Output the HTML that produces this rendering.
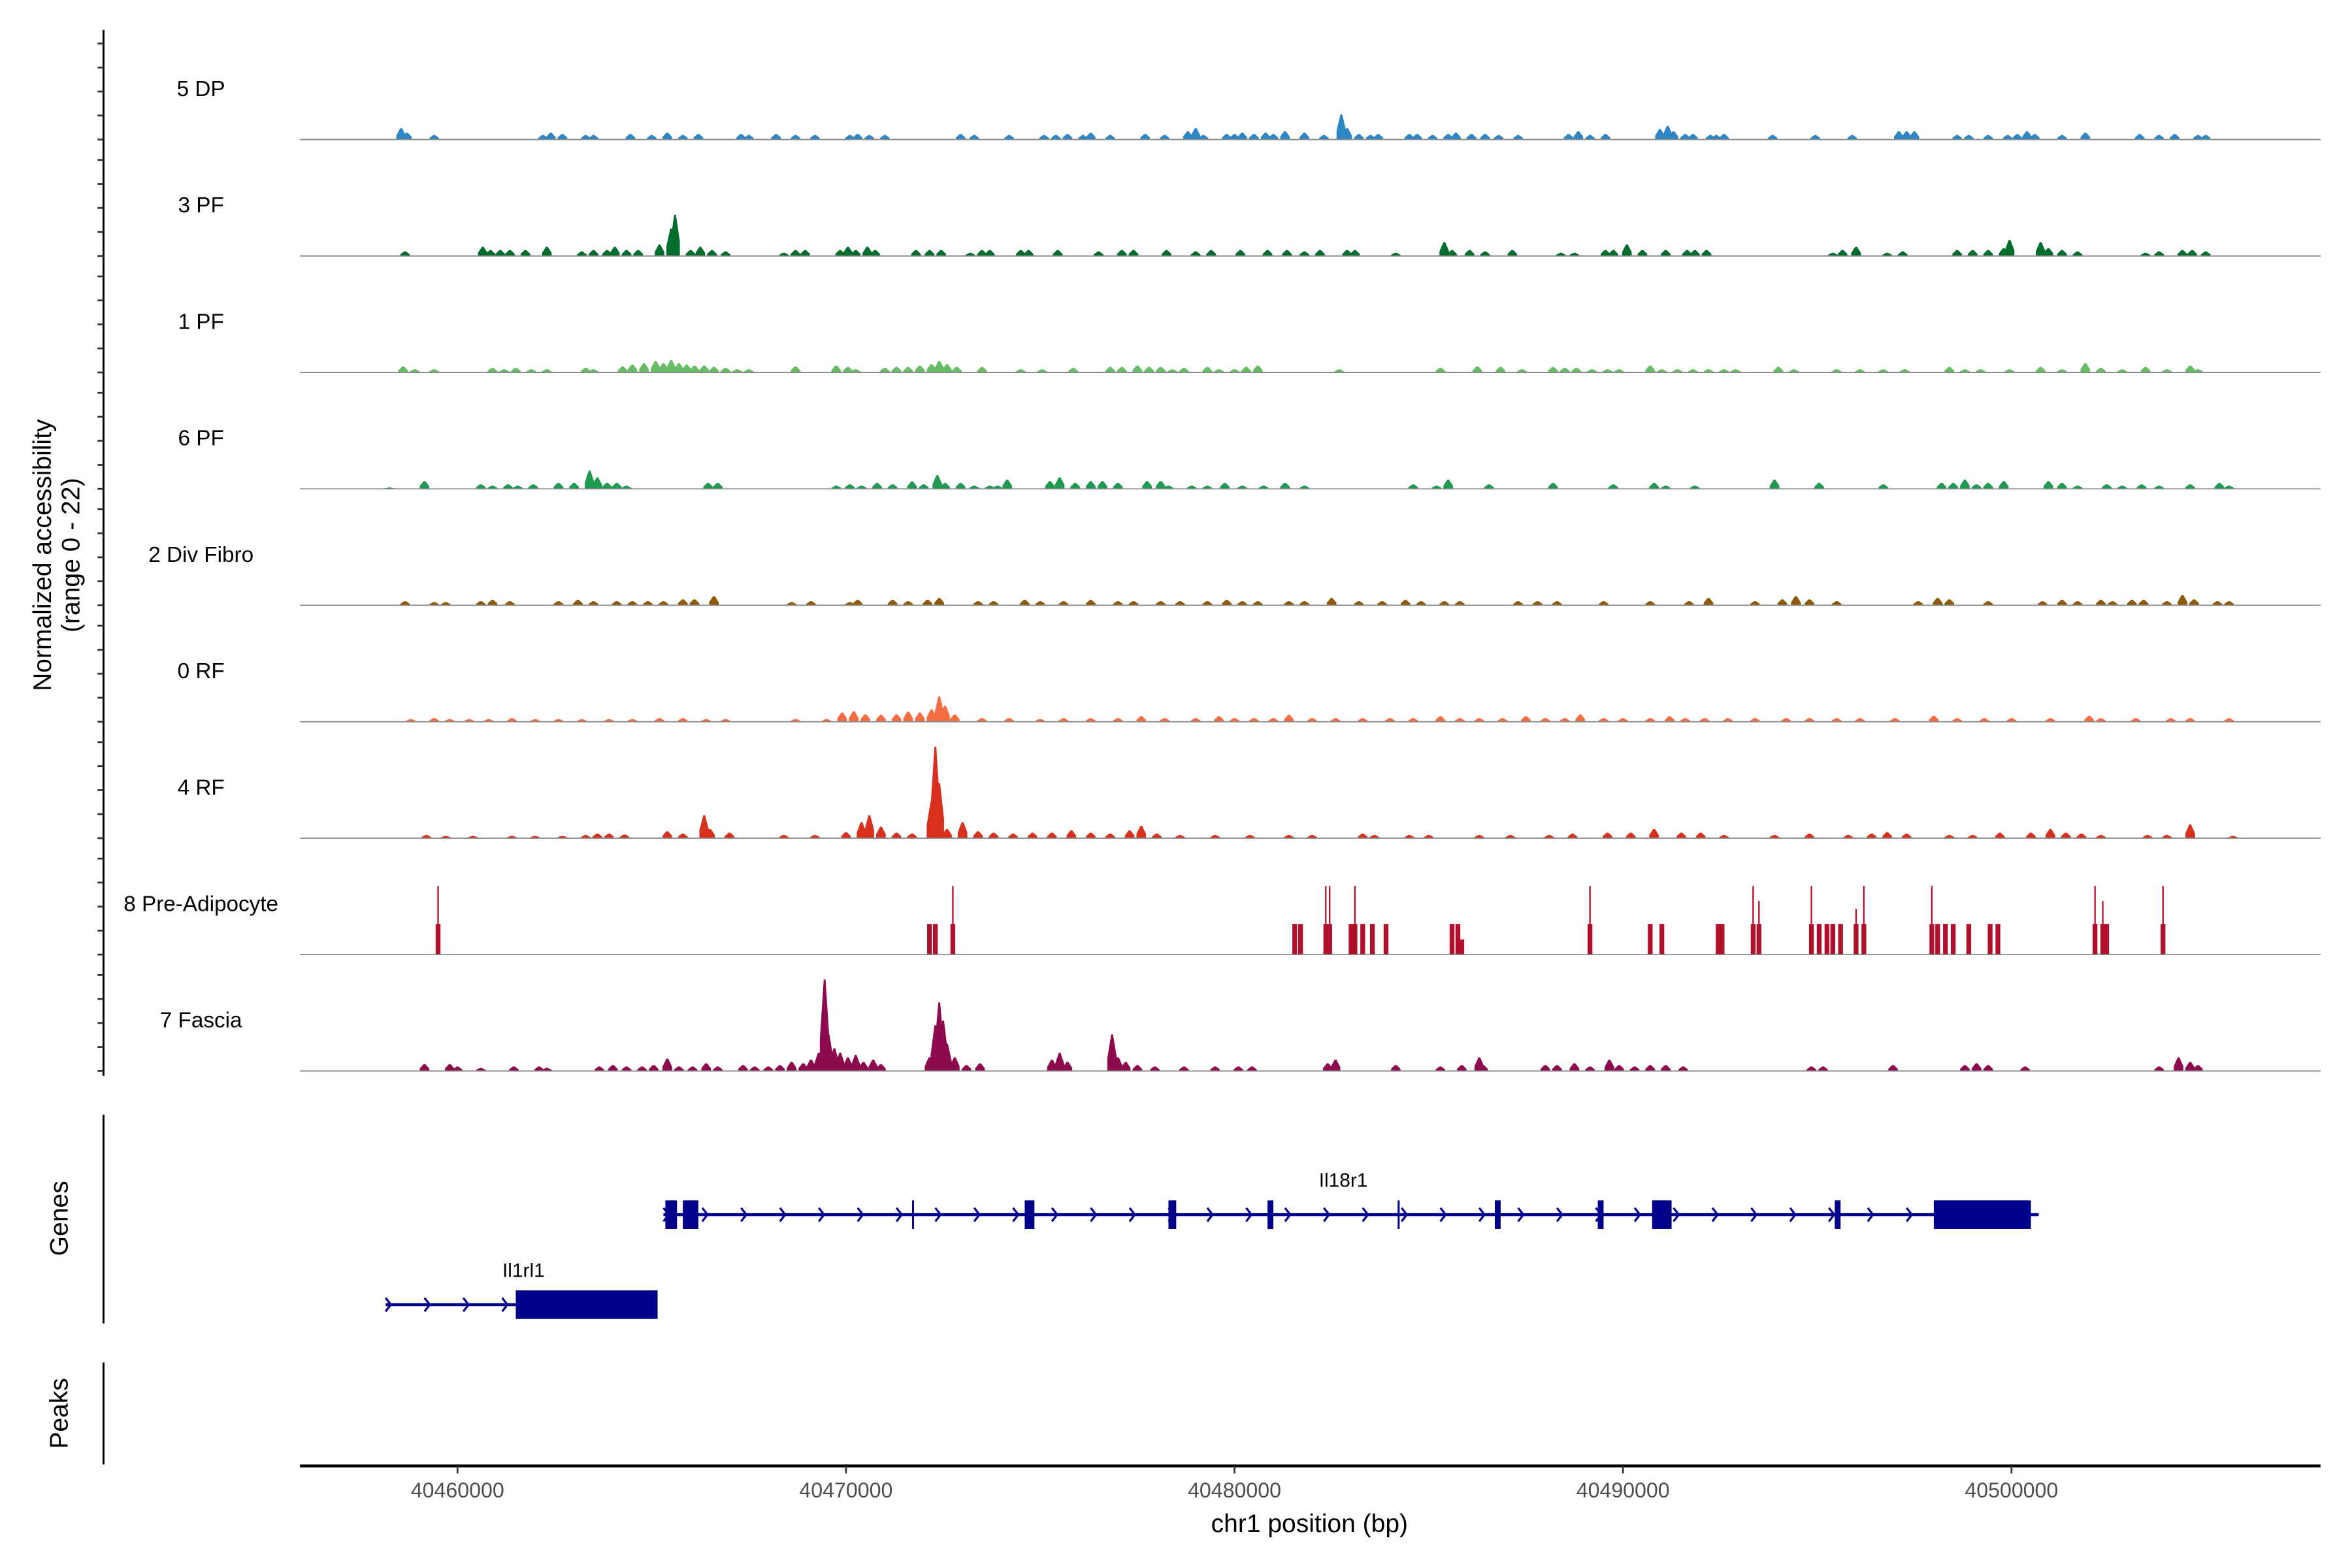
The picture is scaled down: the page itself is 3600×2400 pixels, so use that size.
<!DOCTYPE html>
<html><head><meta charset="utf-8"><style>
html,body{margin:0;padding:0;background:#fff;}
svg{display:block;}
text{font-family:"Liberation Sans",sans-serif;}
</style></head><body>
<svg id="chart" width="3600" height="2400" viewBox="0 0 1568 1045" preserveAspectRatio="none" xmlns="http://www.w3.org/2000/svg">
<rect width="1568" height="1045" fill="#fff"/>
<g id="tracks"></g>
<line x1="69" y1="20" x2="69" y2="717" stroke="#000" stroke-width="1.3"/>
<g id="yticks"></g>
<text transform="translate(34,370) rotate(-90)" text-anchor="middle" font-size="17"><tspan x="0" dy="0">Normalized accessibility</tspan><tspan x="0" dy="19">(range 0 - 22)</tspan></text>
<line x1="69" y1="743" x2="69" y2="882" stroke="#000" stroke-width="1.3"/>
<text transform="translate(45,812) rotate(-90)" text-anchor="middle" font-size="17">Genes</text>
<line x1="69" y1="908" x2="69" y2="976" stroke="#000" stroke-width="1.3"/>
<text transform="translate(45,942) rotate(-90)" text-anchor="middle" font-size="17">Peaks</text>
<g id="genes"></g>
<line x1="200" y1="977" x2="1547" y2="977" stroke="#000" stroke-width="2"/>
<g id="xticks"></g>
<text x="873" y="1021" text-anchor="middle" font-size="17">chr1 position (bp)</text>
</svg>
<script>
// data: positions in kb offset from 40,460,000; heights in normalized accessibility
const trackNames = ["5 DP","3 PF","1 PF","6 PF","2 Div Fibro","0 RF","4 RF","8 Pre-Adipocyte","7 Fascia"];
const trackColors = ["#2f86c4","#006d2c","#66bd63","#1f9a50","#8c5a0a","#f46d43","#d7301f","#b0102b","#8e0a4f"];
const xTicks = [40460000,40470000,40480000,40490000,40500000];
const peaks5DP = [[-1.45,2.5],[-1.3,1.5],[-0.6,1],[2.2,1],[2.4,1.5],[2.7,1.2],[3.3,1],[3.5,1],[4.45,1.2],[5,1],[5.4,1.5],[5.8,1],[6.2,1.2],[7.3,1.2],[7.5,1],[8.2,1.2],[8.7,1],[9.2,1],[10.1,1],[10.3,1.2],[10.6,1],[11,1],[12.95,1.2],[13.3,1],[14.2,1],[15.1,1],[15.4,1],[15.7,1.2],[16.1,1],[16.3,1.5],[16.8,1],[17.7,1.2],[18.2,1],[18.8,1.8],[19,2.5],[19.2,1],[19.8,1.2],[20,1.2],[20.2,1.5],[20.5,1.2],[20.8,1.5],[21,1.2],[21.3,1.8],[21.8,1.5],[22.3,1],[22.75,5.5],[22.9,2.5],[23.2,1.2],[23.5,1],[23.7,1.2],[24.5,1.2],[24.7,1.2],[25.1,1],[25.5,1.2],[25.7,1.5],[26.1,1.2],[26.45,1.2],[26.8,1],[27.3,1],[28.6,1.2],[28.85,1.8],[29.15,1],[29.55,1.2],[30.95,2.3],[31.15,3],[31.3,1.8],[31.6,1.2],[31.8,1.2],[32.25,1],[32.4,1],[32.6,1.2],[33.85,1],[34.95,1],[35.9,1],[37.1,1.8],[37.3,1.8],[37.5,1.8],[38.6,1],[38.9,1],[39.4,1],[39.9,1],[40.15,1.2],[40.4,1.8],[40.6,1.2],[41.3,1],[41.9,1.5],[43.3,1.2],[43.8,1],[44.2,1.2],[44.8,1],[45,1]];
const peaks3PF = [[-1.35,1],[0.65,2],[0.85,1.3],[1.1,1.3],[1.35,1.3],[1.75,1.3],[2.3,2],[3.2,1],[3.5,1.3],[3.85,1.3],[4.05,2],[4.35,1.3],[4.65,1.3],[5.2,2.5],[5.5,6],[5.6,9],[6,1.3],[6.25,2],[6.55,1.3],[6.9,1],[8.4,0.7],[8.7,1.3],[8.95,1.3],[9.85,1.3],[10.05,2],[10.25,1.3],[10.55,2],[10.75,1.3],[11.8,1.3],[12.15,1.3],[12.45,1.3],[13.2,0.7],[13.5,1.3],[13.7,1.3],[14.5,1.3],[14.7,1.3],[15.45,1.3],[16.5,1],[17.1,1.3],[17.4,1.3],[18.25,1.3],[19,1],[19.4,1.3],[20.15,1.3],[20.85,1.3],[21.35,1.3],[21.8,1],[22.2,1.3],[22.9,1.3],[23.1,1.3],[24.15,0.7],[25.4,3],[25.6,1.3],[26.05,1.3],[26.45,1],[27.15,1.3],[28.4,0.7],[28.75,0.7],[29.55,1.3],[29.75,1.3],[30.1,2.5],[30.5,1.3],[31.1,1.3],[31.65,1.3],[31.85,1.3],[32.15,1.3],[35.4,0.7],[35.65,1.3],[36,2],[36.8,0.7],[37.2,1],[38.6,1.3],[39,1.3],[39.4,1.3],[39.8,1.7],[39.95,3.5],[40.75,3],[40.95,1.7],[41.3,1.3],[41.7,1],[43.45,0.7],[43.8,1],[44.4,1.3],[44.65,1.3],[45,1]];
const peaks1PF = [[-1.4,1.3],[-1.1,0.7],[-0.6,0.7],[0.9,1],[1.2,0.7],[1.5,1],[1.9,0.7],[2.3,0.7],[3.3,1],[3.5,0.7],[4.25,1.3],[4.5,1.7],[4.8,2],[5.1,2.5],[5.3,2],[5.5,2.7],[5.7,2],[5.9,1.7],[6.1,1.5],[6.35,1.5],[6.6,1.2],[6.9,1],[7.2,0.7],[7.5,0.7],[8.7,1.3],[9.75,1.5],[10.05,1.2],[10.25,0.7],[11,1],[11.3,1.2],[11.6,1.2],[11.9,1.5],[12.2,1.8],[12.4,2.5],[12.6,1.8],[12.85,1.2],[13.5,1.2],[14.5,0.7],[15.05,0.7],[15.85,1],[16.8,1.2],[17.1,1.2],[17.5,1.5],[17.8,1.2],[18.1,1.2],[18.4,0.7],[18.7,1],[19.3,1.2],[19.6,0.7],[20,0.7],[20.3,1.2],[20.6,1.5],[22.7,0.7],[25.3,1],[26.25,1.3],[26.85,1.2],[27.4,0.7],[28.2,1.2],[28.5,1],[28.8,1],[29.2,0.7],[29.6,0.7],[29.9,0.7],[30.7,1.5],[31,0.7],[31.4,0.7],[31.8,0.7],[32.2,0.7],[32.6,0.7],[32.9,0.7],[34,1.2],[34.4,0.7],[35.5,0.7],[36.1,0.7],[36.7,0.7],[37.25,0.7],[38.4,1.2],[38.8,0.7],[39.2,0.7],[39.95,0.7],[40.75,1.2],[41.3,0.7],[41.9,2],[42.3,1],[42.85,0.7],[43.45,1.2],[44,0.7],[44.6,1.5],[44.8,0.7]];
const peaks6PF = [[-1.75,0.3],[-0.85,1.7],[0.6,1],[0.9,0.7],[1.3,1],[1.55,0.7],[1.95,1],[2.6,1.3],[3,1.3],[3.4,4],[3.6,2.5],[3.85,1.3],[4.1,1.3],[4.35,0.7],[6.45,1.3],[6.7,1.3],[9.75,0.7],[10.1,1],[10.4,0.7],[10.8,1.3],[11.2,1],[11.7,1.6],[12,1],[12.35,3],[12.55,1.3],[12.95,1.3],[13.3,0.7],[13.7,0.7],[13.9,0.7],[14.15,2],[15.25,1.7],[15.5,2.5],[15.9,1.3],[16.3,1.7],[16.6,1.7],[17,1.3],[17.75,1.7],[18.1,1.7],[18.3,0.7],[18.9,0.7],[19.3,0.7],[19.75,1.3],[20.2,0.7],[20.75,0.7],[21.3,1.3],[21.8,0.7],[24.6,1],[25.2,0.7],[25.5,2],[26.55,1],[28.2,1.3],[29.75,1],[30.8,1.3],[31.1,0.7],[31.85,0.7],[33.9,2],[35.05,1.3],[36.7,1],[38.2,1.3],[38.5,1.3],[38.8,2],[39.1,1],[39.4,1.3],[39.8,1.7],[40.95,1.7],[41.3,1.3],[41.7,0.7],[42.45,1],[42.85,0.7],[43.35,1],[43.8,0.7],[44.6,1],[45.35,1.3],[45.6,0.7]];
const peaksDivFibro = [[-1.35,0.9],[-0.6,0.7],[-0.3,0.7],[0.6,0.9],[0.9,1.2],[1.35,0.9],[2.6,0.9],[3.1,1.2],[3.5,0.9],[4.1,0.9],[4.5,0.9],[4.9,0.9],[5.3,0.9],[5.8,1.3],[6.1,1.3],[6.6,2],[8.6,0.7],[9.1,0.9],[10.1,0.7],[10.3,1.2],[11.2,1.2],[11.6,0.9],[12.1,1.2],[12.4,1.6],[13.4,0.9],[13.8,0.9],[14.6,1.2],[15,0.9],[15.6,0.9],[16.3,1.2],[17,0.9],[17.4,0.9],[18.1,0.9],[18.6,0.9],[19.3,0.9],[19.8,1.2],[20.2,0.9],[20.6,0.9],[21.4,0.9],[21.8,0.9],[22.5,1.6],[23.2,0.9],[23.8,0.9],[24.4,1.2],[24.8,0.9],[25.4,0.9],[25.8,0.9],[27.3,0.9],[27.8,0.9],[28.3,0.9],[29.5,0.9],[30.7,0.9],[31.7,0.9],[32.2,1.6],[33.4,0.9],[34.1,1.3],[34.45,2],[34.8,1.3],[35.5,0.9],[37.6,0.9],[38.1,1.6],[38.4,1.3],[39.4,0.9],[40.8,0.9],[41.3,1.2],[41.7,0.9],[42.3,1.2],[42.6,0.9],[43.1,1.2],[43.4,1.2],[44,0.9],[44.4,2.2],[44.7,1.3],[45.3,0.9],[45.6,0.9]];
const peaks0RF = [[-1.2,0.6],[-0.6,0.8],[-0.2,0.6],[0.3,0.6],[0.8,0.6],[1.4,0.8],[2,0.6],[2.6,0.6],[3.2,0.6],[3.9,0.6],[4.5,0.6],[5.2,0.8],[5.8,0.8],[6.4,0.6],[6.9,0.6],[8.7,0.6],[9.5,0.6],[9.9,2],[10.2,2.3],[10.5,1.6],[10.9,1.5],[11.3,1.6],[11.6,2.2],[11.9,2],[12.2,2.7],[12.4,5.5],[12.55,3.5],[12.8,1.6],[13.5,0.8],[14.2,0.8],[15,0.6],[15.6,0.8],[16.3,0.8],[17,0.8],[17.6,1.2],[18.2,0.8],[19,0.8],[19.6,1.2],[20,0.8],[20.5,0.8],[21,0.8],[21.4,1.5],[22,0.8],[22.6,0.8],[23.3,0.8],[24,0.8],[24.6,0.8],[25.3,1.2],[25.8,0.8],[26.3,0.8],[26.9,0.8],[27.5,1.2],[28,0.8],[28.5,0.8],[28.9,1.6],[29.5,0.8],[30,0.8],[30.7,0.8],[31.2,1.2],[31.6,0.8],[32.1,0.8],[32.7,0.8],[33.4,0.8],[34.2,0.8],[34.8,0.8],[35.5,0.8],[36.1,0.8],[37,0.8],[38,1.3],[38.6,0.8],[39.3,0.8],[40,0.8],[41,0.8],[42,1.3],[42.3,0.8],[43.2,0.8],[44.1,0.8],[44.6,0.8],[45.6,0.8]];
const peaks4RF = [[-0.8,0.7],[-0.3,0.5],[0.4,0.5],[1.4,0.5],[2,0.5],[2.7,0.5],[3.3,0.7],[3.6,1],[3.9,1],[4.3,0.8],[5.4,1.5],[5.8,1],[6.35,5],[6.5,2],[7,1.2],[8.4,0.7],[9.2,0.7],[10,1.3],[10.4,3.5],[10.6,5],[10.9,2.5],[11.3,1.2],[11.7,1],[12.2,8],[12.3,20],[12.4,12],[12.6,2],[13,3.5],[13.4,1.5],[13.8,1.2],[14.3,1],[14.8,1.2],[15.3,1.2],[15.8,1.7],[16.3,1.2],[16.8,1],[17.3,1.7],[17.6,2.7],[18,1],[18.6,0.7],[19.5,0.7],[20.4,0.7],[21.4,0.7],[22,0.7],[23.3,1],[23.6,0.7],[24.5,0.7],[25,0.7],[26.3,0.7],[27.1,0.7],[28.1,0.7],[28.7,1],[29.6,1.2],[30.2,1.2],[30.8,2],[31.5,1.2],[32,1.2],[32.6,0.7],[33.9,0.7],[34.8,1],[35.8,0.7],[36.4,1],[36.8,1.3],[37.3,1],[38.4,0.7],[39,0.7],[39.7,1.2],[40.5,1.2],[41,2],[41.4,1.2],[41.8,1],[42.3,0.7],[43.5,0.7],[44,0.7],[44.6,3],[45.7,0.5]];
const barsPreAdipo = [[-0.5,15],[12.15,6.7],[12.3,6.7],[12.75,15],[21.55,6.7],[21.7,6.7],[22.35,15],[22.45,15],[23,6.7],[23.1,15],[23.3,6.7],[23.55,6.7],[23.9,6.7],[25.6,6.7],[25.75,6.7],[25.85,3.3],[29.15,15],[30.7,6.7],[31,6.7],[32.45,6.7],[32.55,6.7],[33.35,15],[33.5,11.7],[34.85,15],[35.05,6.7],[35.25,6.7],[35.4,6.7],[35.6,6.7],[36,10],[36.2,15],[37.95,15],[38.1,6.7],[38.3,6.7],[38.5,6.7],[38.9,6.7],[39.45,6.7],[39.65,6.7],[42.15,15],[42.35,11.7],[42.45,6.7],[43.9,15]];
const peaksFascia = [[-0.85,1.5],[-0.2,1.5],[0,1],[0.6,0.7],[1.45,1],[2.1,1],[2.3,0.7],[3.65,1],[4,1.3],[4.35,1],[4.75,1],[5.05,1.3],[5.4,2.7],[5.7,1],[6.05,1],[6.4,1.7],[6.7,1],[7.35,1.3],[7.65,1],[8,1],[8.3,1.3],[8.6,2],[8.9,1.7],[9.1,2.5],[9.3,4],[9.45,20],[9.55,8],[9.7,5],[9.85,4],[10.05,3],[10.25,3.5],[10.45,2],[10.7,2.5],[10.9,1.5],[12.15,3],[12.3,10],[12.4,15],[12.5,11],[12.6,6],[12.8,3],[13.1,1.3],[13.45,1.7],[15.3,2.5],[15.5,4],[15.7,2],[16.85,8],[17,3],[17.2,2],[17.5,1.3],[17.95,1],[18.7,1],[19.5,1],[20.1,1],[20.45,1],[22.4,1.7],[22.6,2.5],[24.15,1.3],[25.3,1],[25.85,1.3],[26.3,3],[26.4,1.3],[28,1.3],[28.3,1.3],[28.75,1.7],[29.15,1],[29.65,2.5],[29.9,1.3],[30.3,1],[30.7,1.3],[31.1,1.3],[31.55,1],[34.85,1],[35.15,1],[36.95,1.3],[38.8,1.3],[39.1,1.7],[39.4,1.3],[40.35,1],[43.8,1],[44.3,3],[44.6,2],[44.8,1.3]];
const trackPeaks = [peaks5DP,peaks3PF,peaks1PF,peaks6PF,peaksDivFibro,peaks0RF,peaks4RF,barsPreAdipo,peaksFascia];
// gene models (kb offsets)
const il18r1Span = [5.3, 40.7];
const il18r1Exons = [[5.35,5.65],[5.8,6.2],[11.7,11.75],[14.6,14.85],[18.3,18.5],[20.85,21],[24.2,24.25],[26.7,26.85],[29.35,29.5],[30.75,31.25],[35.45,35.6],[38,40.5]];
const il1rl1Span = [-1.85, 5.15];
const il1rl1Exons = [[1.5,5.15]];

const NS="http://www.w3.org/2000/svg";
const X0=305, PXKB=25.9;
function xs(kb){return X0+kb*PXKB;}
const TOP0=93, STEP=77.6, HS=3.05;
function ys(base,v){return base - v*HS;}
function mk(tag,attrs,parent){const e=document.createElementNS(NS,tag);for(const k in attrs)e.setAttribute(k,attrs[k]);parent.appendChild(e);return e;}

const tg=document.getElementById('tracks');
const yt=document.getElementById('yticks');
trackNames.forEach((name,i)=>{
  const base=TOP0+i*STEP;
  const g=mk('g',{},tg);
  
  
  const lab=mk('text',{x:134,y:base-29,'text-anchor':'middle','font-size':14.5,fill:'#000'},g);
  lab.textContent=name;
  
  
  const col=trackColors[i];
  trackPeaks[i].forEach(p=>{
    const x=xs(p[0]);
    if(i===7){
      const hb=Math.min(p[1],6.7);
      const r=mk('rect',{x:x-1.6,y:ys(base,hb),width:3.2,height:base-ys(base,hb),fill:col},g);
      
      
      if(p[1]>hb){
        const l=mk('rect',{x:x-0.5,y:ys(base,p[1]),width:1,height:base-ys(base,p[1]),fill:col},g);
        
        
      }
    } else {
      const w=3.2;
      const poly=mk('polygon',{points:`${x-w},${base} ${x-w},${ys(base,p[1]*0.35)} ${x-0.6},${ys(base,p[1])} ${x+0.6},${ys(base,p[1])} ${x+w},${ys(base,p[1]*0.35)} ${x+w},${base}`,fill:col},g);
      
      
    }
  });
  const bl=mk('line',{x1:200,y1:base,x2:1547,y2:base,stroke:'#888',"stroke-width":0.8},g);
  
  
  for(let k=0;k<5;k++){
    const t=mk('line',{x1:65,x2:69,y1:base-k*16,y2:base-k*16,stroke:'#333',"stroke-width":1.2},yt);
    
    
  }
});

const xt=document.getElementById('xticks');
xTicks.forEach(v=>{
  const x=xs((v-40460000)/1000);
  const t=mk('line',{x1:x,x2:x,y1:977,y2:982,stroke:'#333',"stroke-width":1.2},xt);
  
  
  const l=mk('text',{x:x,y:998,'text-anchor':'middle','font-size':14,fill:'#4d4d4d'},xt);
  l.textContent=String(v);
  
  
});

const gg=document.getElementById('genes');
function drawGene(name,span,exons,yc,h,labelKb,labelY){
  const g=mk('g',{},gg);
  
  
  const ln=mk('line',{x1:xs(span[0]),x2:xs(span[1]),y1:yc,y2:yc,stroke:'#00008b',"stroke-width":2},g);
  
  
  for(let kb=span[0];kb<span[1]-0.3;kb+=1){
    const x=xs(kb)+2;
    const c=mk('polyline',{points:`${x-2},${yc-4.5} ${x+1.5},${yc} ${x-2},${yc+4.5}`,fill:'none',stroke:'#00008b',"stroke-width":1.4},g);
    
    
  }
  exons.forEach(e=>{
    const x1=xs(e[0]),x2=xs(e[1]);
    const r=mk('rect',{x:x1,y:yc-h/2,width:Math.max(1.3,x2-x1),height:h,fill:'#00008b'},g);
    
    
  });
  const t=mk('text',{x:xs(labelKb),y:labelY,'text-anchor':'middle','font-size':13,fill:'#000'},g);
  t.textContent=name;
  
  
}
drawGene('Il18r1',il18r1Span,il18r1Exons,809.5,19,22.8,791);
drawGene('Il1rl1',il1rl1Span,il1rl1Exons,869.5,19,1.7,851);
</script>
</body></html>
